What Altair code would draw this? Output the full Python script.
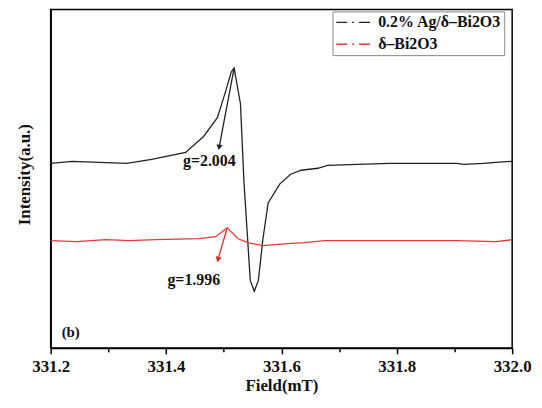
import altair as alt
import pandas as pd

# ---- data ----
s_ag = "0.2% Ag/δ–Bi2O3"
s_bi = "δ–Bi2O3"

ag_field = [331.200, 331.238, 331.284, 331.332, 331.375, 331.434, 331.465, 331.489,
            331.503, 331.513, 331.518, 331.529, 331.535, 331.546, 331.553, 331.560,
            331.568, 331.577, 331.597, 331.616, 331.634, 331.663, 331.680, 331.732,
            331.788, 331.852, 331.904, 331.916, 331.950, 331.972, 332.000]
ag_int = [186, 188, 187, 186, 190, 197, 213, 232,
          258, 278, 282, 246, 168, 68, 57, 68,
          110, 146, 165, 175, 179, 181, 184, 185,
          186, 186, 186, 185, 186, 187, 188]

bi_field = [331.200, 331.245, 331.296, 331.336, 331.382, 331.456, 331.486, 331.506,
            331.525, 331.542, 331.568, 331.611, 331.640, 331.675, 331.766, 331.904,
            331.972, 332.000]
bi_int = [108, 107, 109, 108, 109, 110, 112, 121,
          110, 106, 103, 105, 106, 108, 108, 108,
          107, 109]

tick_values = [331.2, 331.3, 331.4, 331.5, 331.6, 331.7, 331.8, 331.9, 332.0]

# annotations
g_text = ["g=2.004", "g=1.996"]
g_x = [331.475, 331.448]
g_y = [188, 68]

panel_text = ["(b)"]
panel_x = [331.219]
panel_y = [16]

arrow_x0 = [331.518, 331.506]
arrow_y0 = [282, 121]
arrow_x1 = [331.492, 331.490]
arrow_y1 = [202, 89]
arrow_color = ["#222222", "#e02828"]
arrow_angle = [11, 16]

series_colors = ["#222222", "#e8383d"]

# ---- tables ----
lines = pd.concat([
    pd.DataFrame({"series": s_ag, "field": ag_field, "intensity": ag_int, "order": range(len(ag_field))}),
    pd.DataFrame({"series": s_bi, "field": bi_field, "intensity": bi_int, "order": range(len(bi_field))}),
])
gdf = pd.DataFrame({"text": g_text, "x": g_x, "y": g_y})
pdf = pd.DataFrame({"text": panel_text, "x": panel_x, "y": panel_y})
arrows = pd.DataFrame({"x0": arrow_x0, "y0": arrow_y0, "x1": arrow_x1, "y1": arrow_y1,
                       "color": arrow_color, "angle": arrow_angle})

FONT = "Liberation Serif"

xscale = alt.Scale(domain=[331.2, 332.0], nice=False, zero=False)
yscale = alt.Scale(domain=[0, 341], nice=False, zero=False)

xaxis = alt.Axis(
    values=tick_values,
    labelExpr="round(datum.value*10) % 2 == 0 ? format(datum.value, '.1f') : ''",
    tickSize={"condition": {"test": "round(datum.value*10) % 2 == 0", "value": 6}, "value": 4},
    grid=False, title="Field(mT)", labelPadding=5, labelFlush=False,
    titleY=38, titleBaseline="middle",
)
yaxis = alt.Axis(labels=False, ticks=False, grid=False, title="Intensity(a.u.)",
                 titleX=-26, titleY=166, titleAngle=-90, titleAlign="center",
                 titleBaseline="middle")

line_layer = alt.Chart(lines).mark_line(strokeWidth=1.3).encode(
    x=alt.X("field:Q", scale=xscale, axis=xaxis),
    y=alt.Y("intensity:Q", scale=yscale, axis=yaxis),
    order="order:Q",
    color=alt.Color(
        "series:N",
        scale=alt.Scale(domain=[s_ag, s_bi], range=series_colors),
        legend=alt.Legend(
            title=None, orient="none", legendX=284, legendY=2,
            symbolType="stroke", symbolSize=1400, symbolStrokeWidth=1.5,
            symbolDash=[11, 5, 2, 5], clipHeight=16,
            labelFont=FONT, labelFontWeight="bold", labelFontSize=16, labelColor="#111111",
            labelLimit=300, labelOffset=4,
            strokeColor="#888888", padding=3, rowPadding=6, fillColor="white",
        ),
    ),
)

rule_layer = alt.Chart(arrows).mark_rule(strokeWidth=1.3).encode(
    x="x0:Q", y="y0:Q", x2="x1:Q", y2="y1:Q",
    color=alt.Color("color:N", scale=None, legend=None),
)

head_layer = alt.Chart(arrows).mark_point(shape="triangle-down", filled=True, size=40, opacity=1).encode(
    x="x1:Q", y="y1:Q",
    angle=alt.Angle("angle:Q", scale=None),
    color=alt.Color("color:N", scale=None, legend=None),
)

g_layer = alt.Chart(gdf).mark_text(font=FONT, fontWeight="bold", fontSize=16,
                                   baseline="middle", align="center", color="#111111").encode(
    x="x:Q", y="y:Q", text="text:N",
)

panel_layer = alt.Chart(pdf).mark_text(font=FONT, fontWeight="bold", fontSize=15,
                                       baseline="middle", align="left", color="#111111").encode(
    x="x:Q", y="y:Q", text="text:N",
)

chart = alt.layer(line_layer, rule_layer, head_layer, g_layer, panel_layer).properties(
    width=465, height=341,
    autosize=alt.AutoSizeParams(type="none"),
    padding={"left": 43, "top": 0, "right": 22, "bottom": 48},
).configure_view(
    stroke="black", strokeWidth=1.5
).configure_axis(
    domainColor="black", domainWidth=1.5, tickColor="black", tickWidth=1.5,
    labelFont=FONT, labelFontWeight="bold", labelFontSize=17, labelColor="#111111",
    titleFont=FONT, titleFontWeight="bold", titleFontSize=17, titleColor="#111111",
)

chart.save("out.html", embed_options={"renderer": "svg", "actions": False})
